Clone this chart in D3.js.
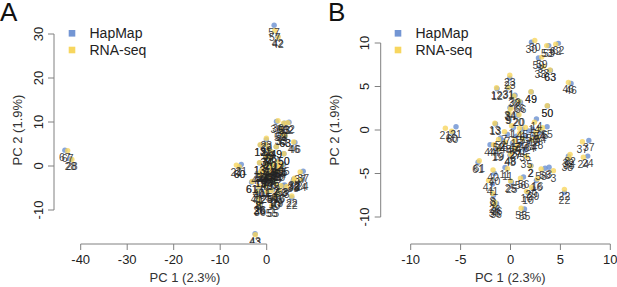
<!DOCTYPE html>
<html>
<head>
<meta charset="utf-8">
<script src="https://cdn.jsdelivr.net/npm/d3@7"></script>
<style>
  body { margin: 0; background: #fff; }
  svg { display: block; font-family: "Liberation Sans", Arial, sans-serif; }
</style>
</head>
<body>
<div id="chart"></div>
<script>
// sample ids and PC coordinates (HapMap genotype vs RNA-seq derived genotype)
const sampleIds = [30, 53, 62, 59, 33, 63, 46, 23, 12, 31, 39, 66, 49, 50, 34, 9, 20, 14, 65, 13,
  21, 60, 1, 4, 5, 6, 7, 15, 17, 18, 45, 47, 51, 64, 52, 44, 19, 27, 35, 48, 54, 61, 40, 11, 2,
  58, 3, 41, 25, 56, 16, 29, 10, 55, 22, 8, 26, 36, 37, 24, 32, 38, 67, 28, 57, 42, 43];
const hapmapX = [2.1, 3.83, 4.8, 2.8, 3.0, 4.0, 6.07, -0.07, -1.35, -0.25, 0.45, 1.0, 2.07, 3.7, -0.05, -0.25, 0.75, 2.6, 3.67, -1.5,
  -5.46, -5.8, 0.3, 1.2, 1.8, 2.2, -0.3, 0.6, 1.5, 2.4, -0.8, 0.2, 1.0, 1.9, -1.0, -2.05, -1.3, 0.5, 1.45, -0.05, 3.0, -3.25, -1.6, -0.55, 2.05,
  3.47, 3.87, -1.8, 0.1, 1.3, 2.6, 2.3, 1.75, 1.4, 5.4, -1.7, -1.4, -1.45, 7.85, 7.74, 5.8, 5.7, -43.4, -42.2, 1.6, 2.35, -2.5];
const hapmapY = [10.1, 9.7, 9.96, 8.27, 7.2, 6.85, 5.35, 5.96, 4.75, 4.85, 4.0, 3.2, 4.38, 2.77, 2.55, 1.9, 1.7, 1.27, 0.38, 0.7,
  0.38, -0.25, 0.3, 0.1, -0.1, 0.1, -0.5, -0.7, -0.8, -0.6, -1.2, -1.5, -1.6, -1.3, -0.9, -1.7, -2.3, -2.0, -2.3, -2.9, -0.2, -3.7, -5.0, -4.3, -4.1,
  -4.4, -4.29, -6.2, -6.0, -5.4, -5.8, -6.75, -7.2, -9.08, -7.2, -7.5, -8.45, -8.9, -1.2, -3.0, -3.0, -3.4, 3.6, 1.6, 32.0, 29.5, -15.4];
const rnaseqX = [2.43, 3.63, 4.53, 3.13, 3.3, 3.95, 5.8, -0.07, -1.4, -0.2, 0.35, 0.85, 2.05, 3.68, 0.0, -0.15, 0.85, 2.4, 3.2, -1.57,
  -6.53, -5.9, 0.1, 0.9, 1.5, 2.5, -0.6, 0.9, 1.2, 2.7, -0.5, 0.4, 0.7, 2.1, -1.2, -1.7, -1.2, 0.45, 1.6, 0.0, 2.9, -3.13, -1.75, -0.3, 2.0,
  3.07, 4.3, -2.2, 0.0, 1.0, 2.7, 2.1, 1.6, 1.07, 5.4, -1.8, -1.57, -1.6, 7.2, 7.3, 5.97, 5.85, -42.8, -41.9, 1.75, 2.45, -2.45];
const rnaseqY = [10.3, 9.7, 9.85, 8.38, 7.3, 6.9, 5.46, 6.3, 4.85, 4.9, 3.9, 3.3, 4.4, 2.8, 2.45, 1.95, 1.75, 0.9, 0.27, 0.77,
  0.2, -0.15, 0.5, 0.2, 0.3, -0.3, -0.2, -0.4, -1.0, -0.9, -1.4, -1.2, -1.8, -1.1, -1.1, -1.7, -2.2, -2.1, -3.05, -2.8, 0.1, -3.53, -4.6, -4.45, -4.15,
  -4.48, -4.67, -5.8, -5.85, -5.55, -5.6, -6.6, -7.05, -9.0, -6.82, -7.3, -8.3, -8.7, -1.35, -3.14, -2.8, -3.25, 3.5, 1.5, 30.8, 29.3, -15.6];

const seriesNames = ["HapMap", "RNA-seq"];
const seriesColors = ["#7396d4", "#f7d65f"];
const xTicksA = [-40, -30, -20, -10, 0];
const yTicksA = [-10, 0, 10, 20, 30];
const xTicksB = [-10, -5, 0, 5, 10];
const yTicksB = [-10, -5, 0, 5, 10];
const xTitle = "PC 1 (2.3%)";
const yTitle = "PC 2 (1.9%)";

const width = 617, height = 287;
const svg = d3.select("#chart").append("svg")
  .attr("width", width)
  .attr("height", height)
  .attr("viewBox", `0 0 ${width} ${height}`);

const samples = sampleIds.map((id, i) => ({
  id,
  hap: [hapmapX[i], hapmapY[i]],
  rna: [rnaseqX[i], rnaseqY[i]]
}));

const panels = [
  {
    letter: "A", letterX: 0,
    x: d3.scaleLinear().domain([-40, 0]).range([80.7, 266.7]),
    y: d3.scaleLinear().domain([-10, 30]).range([210, 34]),
    xTicks: xTicksA, yTicks: yTicksA,
    clip: [54, 14, 260, 229], axisX: 54, axisY: 244,
    legendX: 72, titleX: 185, ytitleX: 22
  },
  {
    letter: "B", letterX: 328,
    x: d3.scaleLinear().domain([-10, 10]).range([410.7, 610.3]),
    y: d3.scaleLinear().domain([-10, 10]).range([217, 43]),
    xTicks: xTicksB, yTicks: yTicksB,
    clip: [381, 28, 236, 215], axisX: 380.7, axisY: 244,
    legendX: 398, titleX: 510.3, ytitleX: 339
  }
];

panels.forEach((p, pi) => {
  const g = svg.append("g");
  const { x, y } = p;
  const [cx0, cy0, cw, ch] = p.clip;

  g.append("clipPath").attr("id", "clip" + pi)
    .append("rect")
    .attr("x", cx0).attr("y", cy0)
    .attr("width", cw).attr("height", ch);

  // axes (R style: line spans first..last tick)
  const axisCol = "#808080";
  const yAx = g.append("g").attr("transform", `translate(${p.axisX},0)`);
  yAx.append("line")
    .attr("y1", y(p.yTicks[0])).attr("y2", y(p.yTicks[p.yTicks.length - 1]))
    .attr("stroke", axisCol);
  p.yTicks.forEach(t => {
    yAx.append("line").attr("x1", 0).attr("x2", -6)
      .attr("y1", y(t)).attr("y2", y(t)).attr("stroke", axisCol);
    yAx.append("text")
      .attr("transform", `translate(-11.5,${y(t)}) rotate(-90)`)
      .attr("text-anchor", "middle")
      .attr("font-size", 13)
      .attr("fill", "#222")
      .text(t);
  });

  const xAx = g.append("g").attr("transform", `translate(0,${p.axisY})`);
  xAx.append("line")
    .attr("x1", x(p.xTicks[0])).attr("x2", x(p.xTicks[p.xTicks.length - 1]))
    .attr("stroke", axisCol);
  p.xTicks.forEach(t => {
    xAx.append("line").attr("y1", 0).attr("y2", 6)
      .attr("x1", x(t)).attr("x2", x(t)).attr("stroke", axisCol);
    xAx.append("text")
      .attr("x", x(t)).attr("y", 19.5)
      .attr("text-anchor", "middle")
      .attr("font-size", 13)
      .attr("fill", "#222")
      .text(t);
  });

  g.append("text")
    .attr("x", p.titleX).attr("y", 282)
    .attr("text-anchor", "middle")
    .attr("font-size", 13)
    .attr("fill", "#333")
    .text(xTitle);
  g.append("text")
    .attr("transform", `translate(${p.ytitleX},130) rotate(-90)`)
    .attr("text-anchor", "middle")
    .attr("font-size", 13)
    .attr("fill", "#333")
    .text(yTitle);

  g.append("text")
    .attr("x", p.letterX).attr("y", 21)
    .attr("font-size", 26)
    .attr("fill", "#111")
    .text(p.letter);

  // points and labels, only those inside this panel's plot region
  const plot = g.append("g").attr("clip-path", `url(#clip${pi})`);
  const inside = v => x(v[0]) >= cx0 && x(v[0]) <= cx0 + cw && y(v[1]) >= cy0 && y(v[1]) <= cy0 + ch;
  const pts = [];
  samples.forEach(s => {
    if (inside(s.hap)) pts.push({ id: s.id, v: s.hap, k: 0 });
    if (inside(s.rna)) pts.push({ id: s.id, v: s.rna, k: 1 });
  });
  plot.selectAll("circle.hap")
    .data(pts.filter(d => d.k === 0))
    .join("circle")
    .attr("cx", d => x(d.v[0]))
    .attr("cy", d => y(d.v[1]))
    .attr("r", 2.7)
    .attr("fill", seriesColors[0])
    .attr("fill-opacity", 0.85);
  plot.selectAll("circle.rna")
    .data(pts.filter(d => d.k === 1))
    .join("circle")
    .attr("cx", d => x(d.v[0]))
    .attr("cy", d => y(d.v[1]))
    .attr("r", 2.7)
    .attr("fill", seriesColors[1])
    .attr("fill-opacity", 0.8);
  plot.selectAll("text.lab")
    .data(pts)
    .join("text")
    .attr("x", d => x(d.v[0]))
    .attr("y", d => y(d.v[1]) + 11)
    .attr("text-anchor", "middle")
    .attr("font-size", 10.5)
    .attr("fill", "#222")
    .attr("fill-opacity", 0.85)
    .text(d => d.id);

  // legend
  seriesNames.forEach((name, i) => {
    const ly = 33.3 + i * 16.7;
    g.append("rect")
      .attr("x", p.legendX - 3.3).attr("y", ly - 3.3)
      .attr("width", 6.6).attr("height", 6.6)
      .attr("fill", seriesColors[i]);
    g.append("text")
      .attr("x", p.legendX + 17.5).attr("y", ly + 5)
      .attr("font-size", 14)
      .attr("fill", "#222")
      .text(name);
  });
});
</script>
</body>
</html>
